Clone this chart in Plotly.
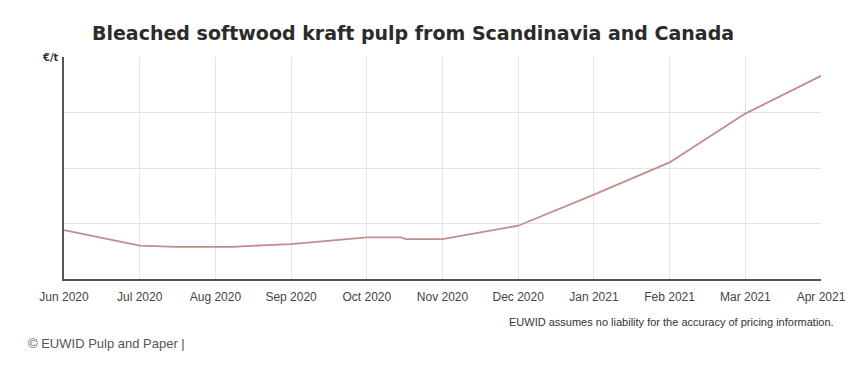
import plotly.graph_objects as go
import calendar
from datetime import date

# ---- data (unit €/t, approximate) ----
month_labels = ["Jun 2020", "Jul 2020", "Aug 2020", "Sep 2020", "Oct 2020", "Nov 2020",
                "Dec 2020", "Jan 2021", "Feb 2021", "Mar 2021", "Apr 2021"]
price_dates = ["2020-06-01", "2020-07-01", "2020-07-16", "2020-08-08", "2020-08-22",
               "2020-09-01", "2020-10-01", "2020-10-15", "2020-10-17", "2020-11-01",
               "2020-12-01", "2021-01-01", "2021-02-01", "2021-03-01", "2021-04-01"]
price_values = [644, 630, 629, 629, 630.5, 631.5, 637.5, 637.5, 636, 636,
                648, 676, 705, 749, 783]

# position of each date on an evenly spaced monthly axis
start = date(2020, 6, 1)
def month_pos(s):
    d = date.fromisoformat(s)
    m = (d.year - start.year) * 12 + (d.month - start.month)
    return m + (d.day - 1) / calendar.monthrange(d.year, d.month)[1]

xs = [month_pos(s) for s in price_dates]

fig = go.Figure()
fig.add_trace(go.Scatter(
    x=xs, y=price_values, mode="lines",
    line=dict(color="#c48c8a", width=1.8),
    hoverinfo="skip", showlegend=False,
))

fig.update_layout(
    width=860, height=364,
    margin=dict(l=56, r=47, t=49, b=93),
    paper_bgcolor="white", plot_bgcolor="white",
    title=dict(
        text="Bleached softwood kraft pulp from Scandinavia and Canada",
        x=0.471, xanchor="center", y=0.929, yanchor="middle",
        font=dict(family="DejaVu Sans", size=19, color="#2b2b2b", weight="bold"),
    ),
    xaxis=dict(
        range=[0, len(month_labels) - 1],
        tickmode="array",
        tickvals=list(range(len(month_labels))),
        ticktext=month_labels,
        showgrid=True, gridcolor="#e4e4e4", gridwidth=1,
        showline=True, linecolor="#555555", linewidth=2,
        ticks="", ticklabelstandoff=6,
        tickfont=dict(family="Liberation Sans, Arial", size=12, color="#444444"),
        zeroline=False, fixedrange=True,
    ),
    yaxis=dict(
        range=[600, 800],
        tickmode="array", tickvals=[650, 700, 750, 800],
        showticklabels=False,
        showgrid=True, gridcolor="#e4e4e4", gridwidth=1,
        showline=True, linecolor="#555555", linewidth=2,
        ticks="", zeroline=False, fixedrange=True,
    ),
    annotations=[
        dict(text="<b>€/t</b>", xref="paper", yref="paper", x=0, y=1,
             xanchor="right", yanchor="middle", xshift=-3, showarrow=False,
             font=dict(family="DejaVu Sans", size=10, color="#333333")),
        dict(text="EUWID assumes no liability for the accuracy of pricing information.",
             xref="paper", yref="paper", x=1, y=0, xanchor="right", yanchor="middle",
             xshift=15, yshift=-43, showarrow=False,
             font=dict(family="Liberation Sans, Arial", size=11, color="#333333")),
        dict(text="© EUWID Pulp and Paper |",
             xref="paper", yref="paper", x=0, y=0, xanchor="left", yanchor="middle",
             xshift=-38, yshift=-64, showarrow=False,
             font=dict(family="Liberation Sans, Arial", size=13, color="#555555")),
    ],
)

fig.write_html("out.html", config={"displayModeBar": False})
